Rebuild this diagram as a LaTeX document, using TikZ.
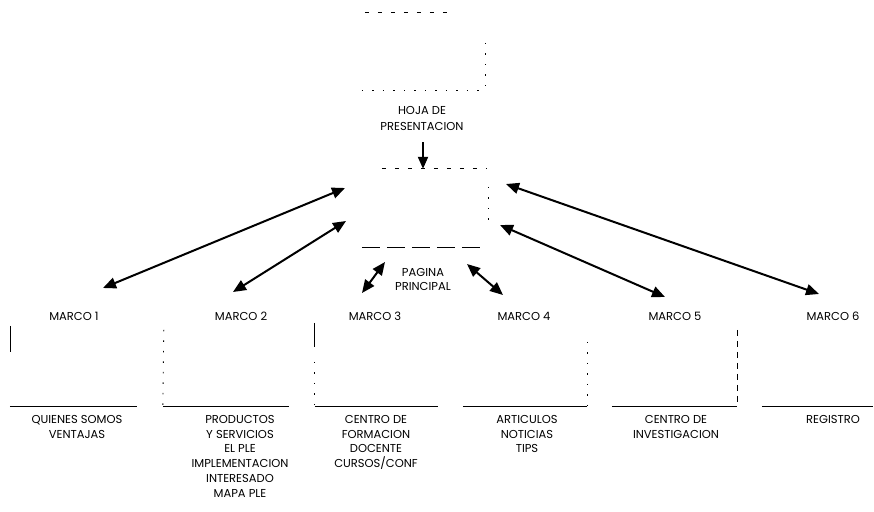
\documentclass[tikz,border=0pt]{standalone}
\usepackage{fontspec}
\setmainfont{Poppins}
\usetikzlibrary{arrows.meta}
\begin{document}
\begin{tikzpicture}[x=1pt,y=-1pt,
  lbl/.style={font=\fontsize{11.5}{14.8}\selectfont, align=center, inner sep=0pt},
  box/.style={rectangle, inner sep=0pt, draw=none},
  biarrow/.style={line width=2pt, {Triangle[length=13pt,width=11pt]}-{Triangle[length=13pt,width=11pt]}},
  onearrow/.style={line width=2pt, -{Triangle[length=12pt,width=10pt]}},
  bottomline/.style={line width=1.3pt},
  faint/.style={line width=0.9pt, dash pattern=on 4pt off 9pt},
  dotted faint/.style={line width=0.9pt, dash pattern=on 1.5pt off 9pt}]
\useasboundingbox (0,0) rectangle (874,511);

% boxes (invisible frames)
\node[box, minimum width=123pt, minimum height=77pt] (hoja) at (423.5,51.5) {};
\node[box, minimum width=124pt, minimum height=78pt] (pag) at (424,208) {};
\node[box, minimum width=127pt, minimum height=84pt] (m1) at (73.5,364) {};
\node[box, minimum width=126pt, minimum height=84pt] (m2) at (226,364) {};
\node[box, minimum width=123pt, minimum height=84pt] (m3) at (376.5,364) {};
\node[box, minimum width=124pt, minimum height=84pt] (m4) at (525,364) {};
\node[box, minimum width=125pt, minimum height=84pt] (m5) at (674.5,364) {};
\node[box, minimum width=111pt, minimum height=84pt] (m6) at (817.5,364) {};

% visible fragments of the frames
\draw[faint] (hoja.north west) ++(3,0) -- ++(90,0);
\draw[dotted faint] (hoja.north east) ++(0,30) -- (hoja.south east);
\draw[dotted faint] (hoja.south west) -- (hoja.south east);
\draw[faint] (pag.north west) ++(20,0) -- (pag.north east);
\draw[dotted faint] (pag.north east) ++(2,18) -- ++(0,35);
\draw[line width=1pt, dash pattern=on 18pt off 7pt] (pag.south west) -- (pag.south east);
\foreach \m in {m1,m2,m3,m4,m5,m6}
  \draw[bottomline] (\m.south west) -- (\m.south east);
\draw[line width=0.9pt] (m1.north west) ++(1,4) -- ++(0,26);
\draw[dotted faint] (m2.north west) ++(1,8) -- (m2.south west);
\draw[line width=0.9pt] (m3.north west) ++(0,1) -- ++(0,24);
\draw[dotted faint] (m3.north west) ++(0,40) -- (m3.south west);
\draw[dotted faint] (m4.north east) ++(0,20) -- (m4.south east);
\draw[faint, dash pattern=on 6pt off 5pt] (m5.north east) ++(0,8) -- (m5.south east);

% labels
\node[lbl, anchor=north] (thoja) at (422,106) {HOJA DE\\[1pt]PRESENTACION};
\node[lbl] (tpag) at (423,279.5) {PAGINA\\PRINCIPAL};
\node[lbl] (l1) at (74,316) {MARCO 1};
\node[lbl] (l2) at (241,316) {MARCO 2};
\node[lbl] (l3) at (375,316) {MARCO 3};
\node[lbl] (l4) at (524,316) {MARCO 4};
\node[lbl] (l5) at (675,316) {MARCO 5};
\node[lbl] (l6) at (833,316) {MARCO 6};
\node[lbl, anchor=north] (d1) at (77,415) {QUIENES SOMOS\\VENTAJAS};
\node[lbl, anchor=north] (d2) at (240,415) {PRODUCTOS\\Y SERVICIOS\\EL PLE\\IMPLEMENTACION\\INTERESADO\\MAPA PLE};
\node[lbl, anchor=north] (d3) at (376,415) {CENTRO DE\\FORMACION\\DOCENTE\\CURSOS/CONF};
\node[lbl, anchor=north] (d4) at (527,415) {ARTICULOS\\NOTICIAS\\TIPS};
\node[lbl, anchor=north] (d5) at (676,415) {CENTRO DE\\INVESTIGACION};
\node[lbl, anchor=north] (d6) at (833,415) {REGISTRO};

% arrow ends
\coordinate (p1) at (345,188);  \coordinate (q1) at (103,288);
\coordinate (p2) at (346,221);  \coordinate (q2) at (233,292);
\coordinate (p3) at (385,262);  \coordinate (q3) at (362,293);
\coordinate (p4) at (467,264);  \coordinate (q4) at (503,295);
\coordinate (p5) at (500,225);  \coordinate (q5) at (665,297);
\coordinate (p6) at (506,184);  \coordinate (q6) at (819,294);
\coordinate (hs) at (423,142);

\draw[onearrow] (hs) -- (pag.north -| hs);
\foreach \i in {1,...,6}
  \draw[biarrow] (p\i) -- (q\i);
\end{tikzpicture}
\end{document}
